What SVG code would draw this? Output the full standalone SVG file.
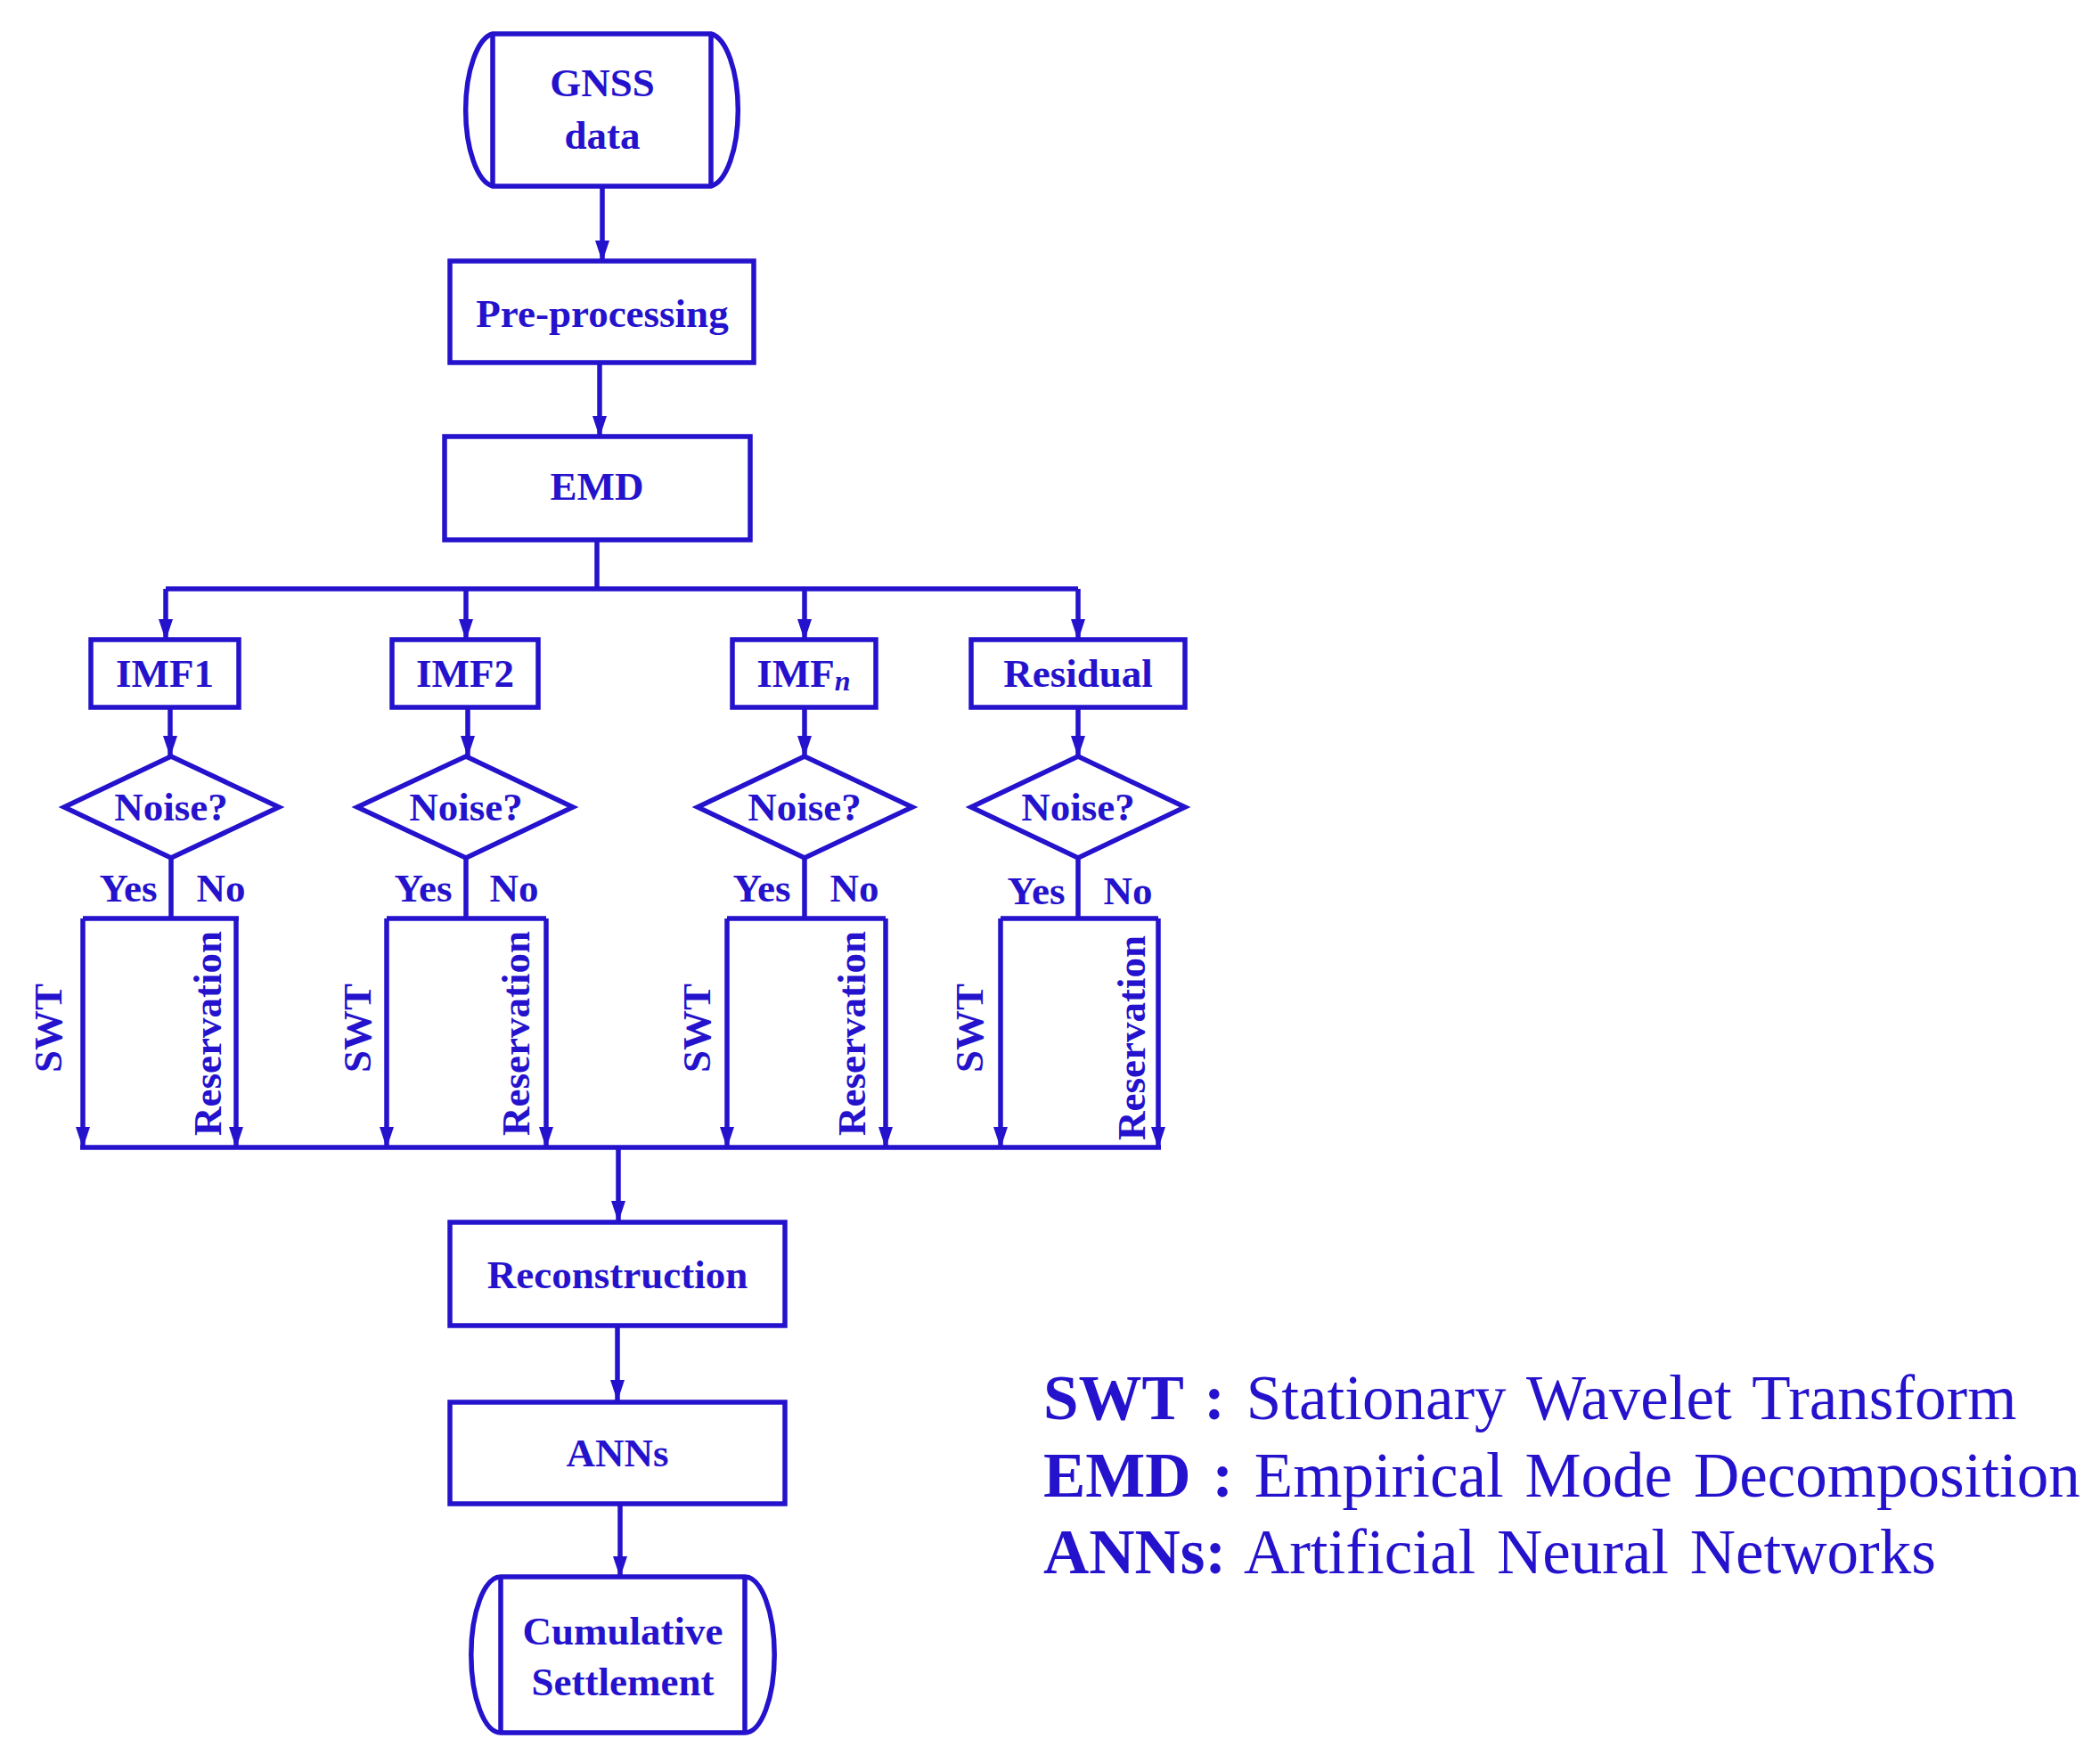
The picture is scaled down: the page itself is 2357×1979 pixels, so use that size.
<svg xmlns="http://www.w3.org/2000/svg" width="2357" height="1979" viewBox="0 0 2357 1979">
<style>
.s{fill:none;stroke:#2412CC;stroke-width:5.5}
.b{fill:#fff;stroke:#2412CC;stroke-width:5.5}
.t{font-family:"Liberation Serif",serif;font-weight:bold;font-size:45px;fill:#2412CC;text-anchor:middle;dominant-baseline:central}
.l{font-family:"Liberation Serif",serif;font-size:71px;fill:#2412CC;word-spacing:6px}
</style>
<defs>
<marker id="m" viewBox="0 0 24 24" refX="23" refY="12" markerWidth="24" markerHeight="24" orient="auto" markerUnits="userSpaceOnUse"><path d="M0,4L24,12L0,20Z" fill="#2412CC"/></marker></defs>
<rect width="2357" height="1979" fill="#fff"/>
<g id="connectors" class="s">
<path d="M676,209V293" marker-end="url(#m)"/>
<path d="M673,407V490" marker-end="url(#m)"/>
<path d="M670,606V661M186,661H1210"/>
<path d="M186,661V718" marker-end="url(#m)"/><path d="M523,661V718" marker-end="url(#m)"/><path d="M903,661V718" marker-end="url(#m)"/><path d="M1210,661V718" marker-end="url(#m)"/>
<path d="M191,794V849" marker-end="url(#m)"/><path d="M525,794V849" marker-end="url(#m)"/><path d="M903,794V849" marker-end="url(#m)"/><path d="M1210,794V849" marker-end="url(#m)"/>
<path d="M192,963V1031M93,1031H268"/><path d="M93,1031V1288" marker-end="url(#m)"/><path d="M265,1031V1288" marker-end="url(#m)"/>
<path d="M523,963V1031M434,1031H613"/><path d="M434,1031V1288" marker-end="url(#m)"/><path d="M613,1031V1288" marker-end="url(#m)"/>
<path d="M903,963V1031M816,1031H994"/><path d="M816,1031V1288" marker-end="url(#m)"/><path d="M994,1031V1288" marker-end="url(#m)"/>
<path d="M1210,963V1031M1123,1031H1300"/><path d="M1123,1031V1288" marker-end="url(#m)"/><path d="M1300,1031V1288" marker-end="url(#m)"/>
<path d="M90,1288H1303"/>
<path d="M694,1288V1371" marker-end="url(#m)"/>
<path d="M693,1488V1572" marker-end="url(#m)"/>
<path d="M696,1688V1770" marker-end="url(#m)"/>
</g>
<g id="gnss"><path class="b" d="M553,38H798A34,86 0 0 1 798,209H553A34,86 0 0 1 553,38Z"/><path class="s" d="M553,38V209M798,38V209"/><text class="t" x="676" y="93">GNSS</text><text class="t" x="676" y="152">data</text></g>
<g id="pre"><rect class="b" x="505" y="293" width="341" height="114"/><text class="t" x="676" y="352">Pre-processing</text></g>
<g id="emd"><rect class="b" x="499" y="490" width="343" height="116"/><text class="t" x="670" y="546">EMD</text></g>
<g id="imf1"><rect class="b" x="102" y="718" width="166" height="76"/><text class="t" x="185" y="756">IMF1</text></g>
<g id="imf2"><rect class="b" x="440" y="718" width="164" height="76"/><text class="t" x="522" y="756">IMF2</text></g>
<g id="imfn"><rect class="b" x="822" y="718" width="161" height="76"/><text class="t" x="902" y="756">IMF<tspan font-style="italic" font-size="32" dy="8">n</tspan></text></g>
<g id="residual"><rect class="b" x="1090" y="718" width="240" height="76"/><text class="t" x="1210" y="756">Residual</text></g>
<g id="d1"><path class="b" d="M72,906L192,849L313,906L192,963Z"/><text class="t" x="192" y="906">Noise?</text></g>
<g id="d2"><path class="b" d="M401,906L523,849L643,906L523,963Z"/><text class="t" x="523" y="906">Noise?</text></g>
<g id="d3"><path class="b" d="M783,906L903,849L1024,906L903,963Z"/><text class="t" x="903" y="906">Noise?</text></g>
<g id="d4"><path class="b" d="M1090,906L1210,849L1330,906L1210,963Z"/><text class="t" x="1210" y="906">Noise?</text></g>
<g id="labels">
<text class="t" x="144" y="997">Yes</text><text class="t" x="248" y="997">No</text>
<text class="t" x="475" y="997">Yes</text><text class="t" x="577" y="997">No</text>
<text class="t" x="855" y="997">Yes</text><text class="t" x="959" y="997">No</text>
<text class="t" x="1163" y="1000">Yes</text><text class="t" x="1266" y="1000">No</text>
<text class="t" transform="translate(54,1154) rotate(-90)">SWT</text>
<text class="t" transform="translate(401,1154) rotate(-90)">SWT</text>
<text class="t" transform="translate(782,1154) rotate(-90)">SWT</text>
<text class="t" transform="translate(1088,1154) rotate(-90)">SWT</text>
<text class="t" transform="translate(233,1160) rotate(-90)">Reservation</text>
<text class="t" transform="translate(579,1160) rotate(-90)">Reservation</text>
<text class="t" transform="translate(956,1160) rotate(-90)">Reservation</text>
<text class="t" transform="translate(1270,1165) rotate(-90)">Reservation</text>
</g>
<g id="recon"><rect class="b" x="505" y="1372" width="376" height="116"/><text class="t" x="693" y="1431">Reconstruction</text></g>
<g id="anns"><rect class="b" x="505" y="1574" width="376" height="114"/><text class="t" x="693" y="1631">ANNs</text></g>
<g id="cum"><path class="b" d="M562,1770H836A33,87 0 0 1 836,1945H562A33,87 0 0 1 562,1770Z"/><path class="s" d="M562,1770V1945M836,1770V1945"/><text class="t" x="699" y="1831">Cumulative</text><text class="t" x="699" y="1888">Settlement</text></g>
<g id="legend">
<text class="l" x="1171" y="1593"><tspan font-weight="bold">SWT :</tspan> Stationary Wavelet Transform</text>
<text class="l" x="1171" y="1680"><tspan font-weight="bold">EMD :</tspan> Empirical Mode Decomposition</text>
<text class="l" x="1171" y="1766"><tspan font-weight="bold">ANNs:</tspan> Artificial Neural Networks</text>
</g>
</svg>
